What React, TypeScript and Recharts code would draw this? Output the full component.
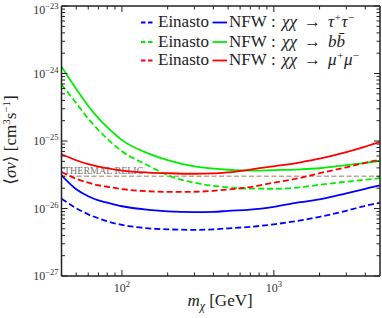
import React from "react";
import { LineChart, Line, XAxis, YAxis, ReferenceLine } from "recharts";

// dark matter mass (GeV)
const masses = [40, 50, 60, 70, 80, 100, 150, 200, 300, 400, 500, 700, 1000, 1500, 2000, 3000, 4000, 5000];

// <sigma v> limits, cm^3 s^-1
const nfwTau = [3.11e-26, 1.93e-26, 1.52e-26, 1.32e-26, 1.22e-26, 1.08e-26, 9.57e-27, 9.09e-27, 8.85e-27, 8.93e-27, 9.24e-27, 9.63e-27, 1.06e-26, 1.24e-26, 1.37e-26, 1.68e-26, 1.96e-26, 2.21e-26];
const einTau = [1.4e-26, 1.01e-26, 8.2e-27, 7.16e-27, 6.46e-27, 5.73e-27, 5.08e-27, 4.91e-27, 4.83e-27, 4.91e-27, 5.08e-27, 5.35e-27, 5.83e-27, 6.68e-27, 7.53e-27, 9.24e-27, 1.1e-26, 1.22e-26];
const nfwBB = [1.26e-24, 5.9e-25, 3.3e-25, 2.18e-25, 1.6e-25, 1.03e-25, 6.5e-26, 5.2e-26, 4.2e-26, 3.9e-26, 3.75e-26, 3.63e-26, 3.7e-26, 3.8e-26, 3.95e-26, 4.4e-26, 4.75e-26, 5.1e-26];
const einBB = [6.9e-25, 3.64e-25, 2.14e-25, 1.45e-25, 1.08e-25, 7.06e-26, 4.3e-26, 3.11e-26, 2.41e-26, 2.17e-26, 2.06e-26, 1.97e-26, 1.96e-26, 2.06e-26, 2.25e-26, 2.49e-26, 2.67e-26, 2.81e-26];
const nfwMu = [6.37e-26, 5.19e-26, 4.53e-26, 4.16e-26, 3.95e-26, 3.65e-26, 3.41e-26, 3.33e-26, 3.27e-26, 3.31e-26, 3.44e-26, 3.77e-26, 4.22e-26, 4.84e-26, 5.46e-26, 6.82e-26, 8.23e-26, 9.7e-26];
const einMu = [3.48e-26, 2.76e-26, 2.41e-26, 2.21e-26, 2.1e-26, 1.94e-26, 1.8e-26, 1.76e-26, 1.77e-26, 1.83e-26, 1.91e-26, 2.08e-26, 2.41e-26, 2.85e-26, 3.33e-26, 4.08e-26, 4.76e-26, 5.28e-26];

const thermalRelic = 3e-26;

const xTicks = [50, 60, 70, 80, 90, 100, 200, 300, 400, 500, 600, 700, 800, 900, 1000, 2000, 3000, 4000];
const yDecades = [-27, -26, -25, -24];
const mantissas = [1, 2, 3, 4, 5, 6, 7, 8, 9];
const yTicks = [...yDecades.flatMap((d) => mantissas.map((m) => m * Math.pow(10, d))), 1e-23];

const data = masses.map((m, i) => ({
  m,
  nfwTau: nfwTau[i],
  einTau: einTau[i],
  nfwBB: nfwBB[i],
  einBB: einBB[i],
  nfwMu: nfwMu[i],
  einMu: einMu[i],
}));

const FONT = "'Liberation Serif', 'DejaVu Serif', serif";
const AXIS = "#222";
const BLUE = "#0000ff";
const GREEN = "#00ee00";
const RED = "#ff0000";
const DASH = "6 3";

const isMajor = (v: number) => {
  const l = Math.log10(v);
  return Math.abs(l - Math.round(l)) < 1e-6;
};

function Pow({ exp, x, y, anchor }: { exp: string; x: number; y: number; anchor: "end" | "middle" }) {
  return (
    <text x={x} y={y} textAnchor={anchor} fontFamily={FONT} fontSize={12} fill="#333">
      <tspan>10</tspan>
      <tspan dy={-5} fontSize={8.5}>{exp}</tspan>
    </text>
  );
}

function Tick(props: any) {
  const { x, y, payload, side } = props;
  const v = payload.value;
  const major = isMajor(v);
  const len = major ? 6 : 3.5;
  const e = Math.round(Math.log10(v));
  const expText = e < 0 ? "\u2212" + Math.abs(e) : String(e);
  if (side === "bottom") {
    return (
      <g>
        <line x1={x} y1={y} x2={x} y2={y - len} stroke={AXIS} strokeWidth={1} />
        {major && <Pow exp={expText} x={x} y={y + 16} anchor="middle" />}
      </g>
    );
  }
  if (side === "top") {
    return <line x1={x} y1={y} x2={x} y2={y + len} stroke={AXIS} strokeWidth={1} />;
  }
  if (side === "left") {
    // keep the topmost label inside the page
    const ty = Math.max(y + 4, 14);
    return (
      <g>
        <line x1={x} y1={y} x2={x + len} y2={y} stroke={AXIS} strokeWidth={1} />
        {major && <Pow exp={expText} x={x - 3} y={ty} anchor="end" />}
      </g>
    );
  }
  return <line x1={x} y1={y} x2={x - len} y2={y} stroke={AXIS} strokeWidth={1} />;
}

function LegendRow({ y, color, channel }: { y: number; color: string; channel: React.ReactNode }) {
  const ly = y - 4.5;
  return (
    <g>
      <line x1={141} y1={ly} x2={155} y2={ly} stroke={color} strokeWidth={1.8} strokeDasharray="4.5 2.5" />
      <text x={158} y={y} fontFamily={FONT} fontSize={17} fill="#222">Einasto</text>
      <line x1={212.5} y1={ly} x2={227} y2={ly} stroke={color} strokeWidth={1.8} />
      <text y={y} fontFamily={FONT} fontSize={17} fill="#222">
        <tspan x={229}>NFW</tspan>
        <tspan x={271}>:</tspan>
        <tspan x={282} fontStyle="italic">χχ</tspan>
        <tspan x={304}>→</tspan>
        <tspan x={328} fontStyle="italic">{channel}</tspan>
      </text>
    </g>
  );
}

export default function App() {
  return (
    <div style={{ position: "absolute", left: 0, top: 0, width: 382, height: 318, background: "#fff" }}>
      <LineChart width={382} height={318} data={data} margin={{ top: 5, right: 1, bottom: 0, left: 0 }}>
        <XAxis
          dataKey="m"
          type="number"
          scale="log"
          domain={[40, 5000]}
          allowDataOverflow
          ticks={xTicks}
          interval={0}
          tickSize={0}
          tickMargin={0}
          tickLine={false}
          height={42}
          axisLine={{ stroke: AXIS, strokeWidth: 1.5 }}
          tick={(p: any) => <Tick {...p} side="bottom" />}
        />
        <XAxis
          xAxisId="top"
          orientation="top"
          dataKey="m"
          type="number"
          scale="log"
          domain={[40, 5000]}
          allowDataOverflow
          ticks={xTicks}
          interval={0}
          tickSize={0}
          tickMargin={0}
          tickLine={false}
          height={1}
          axisLine={{ stroke: AXIS, strokeWidth: 1.5 }}
          tick={(p: any) => <Tick {...p} side="top" />}
        />
        <YAxis
          type="number"
          scale="log"
          domain={[1e-27, 1e-23]}
          allowDataOverflow
          ticks={yTicks}
          interval={0}
          tickSize={0}
          tickMargin={0}
          tickLine={false}
          width={61.5}
          axisLine={{ stroke: AXIS, strokeWidth: 1.5 }}
          tick={(p: any) => <Tick {...p} side="left" />}
        />
        <YAxis
          yAxisId="right"
          orientation="right"
          type="number"
          scale="log"
          domain={[1e-27, 1e-23]}
          allowDataOverflow
          ticks={yTicks}
          interval={0}
          tickSize={0}
          tickMargin={0}
          tickLine={false}
          width={1}
          axisLine={{ stroke: AXIS, strokeWidth: 1.5 }}
          tick={(p: any) => <Tick {...p} side="right" />}
        />
        <ReferenceLine
          y={thermalRelic}
          stroke="#bca893"
          strokeWidth={1.5}
          strokeDasharray="5 2.5"
          label={{
            content: (p: any) => (
              <text x={p.viewBox.x + 2.5} y={p.viewBox.y - 2} fontFamily={FONT} fontSize={10} fill="#777">
                THERMAL RELIC
              </text>
            ),
          }}
        />
        <Line type="monotone" dataKey="einTau" stroke={BLUE} strokeWidth={1.8} strokeDasharray={DASH} dot={false} isAnimationActive={false} />
        <Line type="monotone" dataKey="nfwTau" stroke={BLUE} strokeWidth={1.8} dot={false} isAnimationActive={false} />
        <Line type="monotone" dataKey="einBB" stroke={GREEN} strokeWidth={1.8} strokeDasharray={DASH} dot={false} isAnimationActive={false} />
        <Line type="monotone" dataKey="nfwBB" stroke={GREEN} strokeWidth={1.8} dot={false} isAnimationActive={false} />
        <Line type="monotone" dataKey="einMu" stroke={RED} strokeWidth={1.8} strokeDasharray={DASH} dot={false} isAnimationActive={false} />
        <Line type="monotone" dataKey="nfwMu" stroke={RED} strokeWidth={1.8} dot={false} isAnimationActive={false} />
      </LineChart>
      <svg width={382} height={318} style={{ position: "absolute", left: 0, top: 0, pointerEvents: "none" }}>
        <LegendRow y={27} color={BLUE} channel={<>τ<tspan dy={-6} fontSize={11}>+</tspan><tspan dy={6}>τ</tspan><tspan dy={-6} fontSize={11}>−</tspan></>} />
        <LegendRow y={46.5} color={GREEN} channel={<>bb̄</>} />
        <LegendRow y={65} color={RED} channel={<>μ<tspan dy={-6} fontSize={11}>+</tspan><tspan dy={6}>μ</tspan><tspan dy={-6} fontSize={11}>−</tspan></>} />
        <text transform="translate(16,140) rotate(-90)" textAnchor="middle" fontFamily={FONT} fontSize={17} fill="#222">
          ⟨<tspan fontStyle="italic">σv</tspan>⟩ [cm<tspan dy={-6} fontSize={11}>3</tspan><tspan dy={6}>s</tspan><tspan dy={-6} fontSize={11}>−1</tspan><tspan dy={6}>]</tspan>
        </text>
        <text x={220} y={306} textAnchor="middle" fontFamily={FONT} fontSize={17} fill="#222">
          <tspan fontStyle="italic">m</tspan><tspan dy={4} fontSize={12} fontStyle="italic">χ</tspan><tspan dy={-4}> [GeV]</tspan>
        </text>
      </svg>
    </div>
  );
}
